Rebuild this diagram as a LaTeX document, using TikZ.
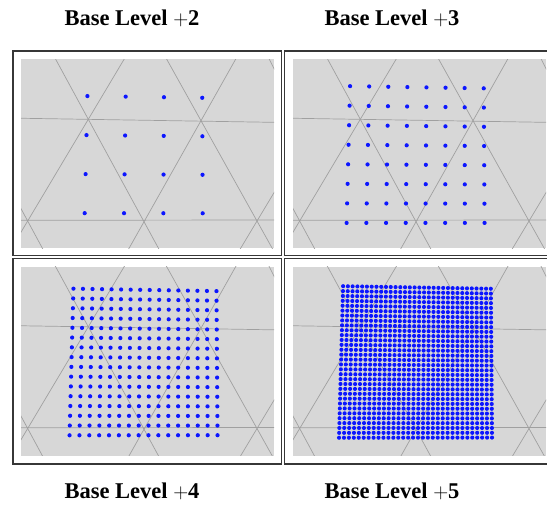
\documentclass[tikz,border=0pt]{standalone}
\usepackage{fontspec}
\setmainfont{Liberation Serif}
\definecolor{bgfill}{RGB}{215,215,215}
\definecolor{meshc}{RGB}{160,160,160}
\definecolor{dotc}{RGB}{12,22,255}
\definecolor{framec}{RGB}{55,55,55}
\tikzset{
  panelbg/.style={fill=bgfill},
  meshline/.style={draw=meshc, line width=0.7pt},
  dotstyle/.style={fill=dotc},
  framebox/.style={draw=framec, line width=1.7pt},
  titlelabel/.style={font=\fontsize{22.5}{26}\selectfont\bfseries, anchor=base, inner sep=0pt}
}
\newcommand{\mypanel}[4]{%
  \begin{scope}[shift={(#1,#2)}]
    \fill[panelbg] (0,0) rectangle (253,189);
    \begin{scope}
      \clip (0,0) rectangle (253,189);
      \draw[meshline] (-10,58.9) -- (263,63.3);
      \draw[meshline] (-10,161.1) -- (263,160.8);
      \draw[meshline] (29.2,-10) -- (143.4,200);
      \draw[meshline] (140.1,-10) -- (257.3,200);
      \draw[meshline] (-86.1,-10) -- (27.3,200);
      \draw[meshline] (243.3,-10) -- (268.3,40);
      \draw[meshline] (109.1,-10) -- (-16.1,200);
      \draw[meshline] (220.3,-10) -- (101.9,200);
      \draw[meshline] (339.1,-10) -- (213.1,200);
    \end{scope}
    \pgfmathtruncatemacro\NN{#3}
    \pgfmathtruncatemacro\Nm{#3-1}
    \foreach \i in {0,...,\Nm}{
      \foreach \j in {0,...,\Nm}{
        \pgfmathsetmacro\uu{(\i+0.5)/\NN}
        \pgfmathsetmacro\vv{(\j+0.5)/\NN}
        \pgfmathsetmacro\xx{(1-\vv)*(47.8+152.4*\uu)+\vv*(43.5+158*\uu)}
        \pgfmathsetmacro\yy{(1-\vv)*(17+2.7*\uu)+\vv*(173.5-0.2*\uu)}
        \fill[dotstyle] (\xx,\yy) circle[radius=#4];
      }
    }
  \end{scope}%
}
\begin{document}
\begin{tikzpicture}[x=1pt,y=-1pt]
  \useasboundingbox (0,0) rectangle (547,505);
  \fill[white] (0,0) rectangle (547,505);
  % frames
  \draw[framebox] (13.2,51.2) rectangle (281.5,255.5);
  \draw[framebox] (284.5,51.2) rectangle (553,255.5);
  \draw[framebox] (13.2,258.5) rectangle (281.5,464.2);
  \draw[framebox] (284.5,258.5) rectangle (553,464.2);
  % panels
  \mypanel{21}{59.2}{4}{2.1}
  \mypanel{293}{59.2}{8}{2.1}
  \mypanel{21}{266.7}{16}{2.1}
  \mypanel{293}{266.7}{32}{2.05}
  % titles
  \node[titlelabel] (t2) at (132,25.5) {Base Level $+$2};
  \node[titlelabel] (t3) at (392,25.5) {Base Level $+$3};
  \node[titlelabel] (t4) at (132,499) {Base Level $+$4};
  \node[titlelabel] (t5) at (392,499) {Base Level $+$5};
\end{tikzpicture}
\end{document}
